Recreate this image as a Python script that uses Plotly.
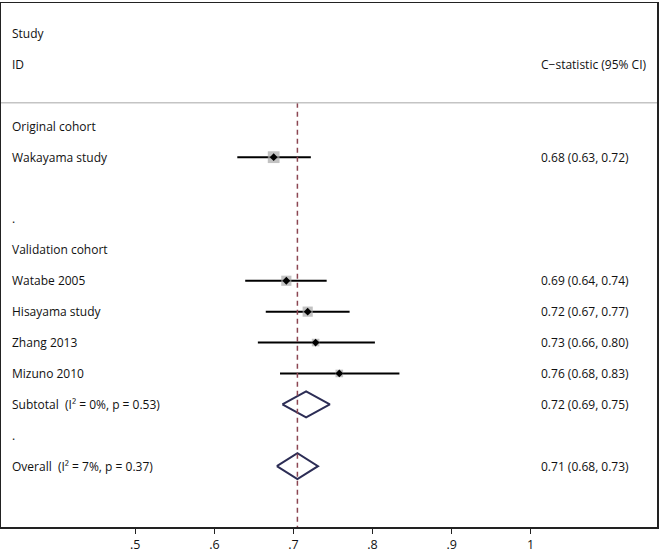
import plotly.graph_objects as go

# Individual studies (row index counted from "Original cohort" = 0)
studies = ["Wakayama study", "Watabe 2005", "Hisayama study", "Zhang 2013", "Mizuno 2010"]
study_rows = [1, 5, 6, 7, 8]
est = [0.675, 0.691, 0.718, 0.728, 0.758]
lo = [0.629, 0.639, 0.665, 0.655, 0.683]
hi = [0.722, 0.742, 0.771, 0.803, 0.834]
weights = [24, 18, 18, 10, 10]
est_text = ["0.68 (0.63, 0.72)", "0.69 (0.64, 0.74)", "0.72 (0.67, 0.77)",
            "0.73 (0.66, 0.80)", "0.76 (0.68, 0.83)"]

# Pooled estimates
pooled_names = ["Subtotal\u00a0 (I\u00b2 = 0%, p = 0.53)", "Overall\u00a0 (I\u00b2 = 7%, p = 0.37)"]
pooled_rows = [9, 11]
pooled_est = [0.716, 0.705]
pooled_lo = [0.686, 0.679]
pooled_hi = [0.746, 0.731]
pooled_text = ["0.72 (0.69, 0.75)", "0.71 (0.68, 0.73)"]

# Other left-column labels
heading_labels = ["Original cohort", ".", "Validation cohort", "."]
heading_rows = [0, 3, 4, 10]

tick_vals = [0.5, 0.6, 0.7, 0.8, 0.9, 1.0]
tick_text = [".5", ".6", ".7", ".8", ".9", "1"]

FONT = "Open Sans"
TXT = "#111111"

fig = go.Figure()

# confidence interval lines
ci_x, ci_y = [], []
for r, a, b in zip(study_rows, lo, hi):
    ci_x += [a, b, None]
    ci_y += [r, r, None]
fig.add_trace(go.Scatter(x=ci_x, y=ci_y, mode="lines",
                         line=dict(color="black", width=2)))

# weight boxes
fig.add_trace(go.Scatter(x=est, y=study_rows, mode="markers",
                         marker=dict(symbol="square", color="#a8a8a8",
                                     size=[2.4 * w ** 0.5 for w in weights],
                                     line=dict(width=0))))
# point estimates
fig.add_trace(go.Scatter(x=est, y=study_rows, mode="markers",
                         marker=dict(symbol="diamond", color="black", size=6)))

# pooled diamonds
h = 0.42
for r, e, a, b in zip(pooled_rows, pooled_est, pooled_lo, pooled_hi):
    fig.add_trace(go.Scatter(x=[a, e, b, e, a], y=[r, r - h, r, r + h, r],
                             mode="lines", line=dict(color="#2c2d55", width=2)))

# overall line
y_top, y_bot = -3.99, 12.97
sep = -0.76
fig.add_shape(type="line", xref="x", yref="y", x0=pooled_est[1], x1=pooled_est[1],
              y0=sep, y1=y_bot, line=dict(color="#8c4652", width=1.5, dash="5px,4px"))
fig.add_shape(type="line", xref="paper", yref="y", x0=0, x1=1, y0=sep, y1=sep,
              line=dict(color="#c4c4c4", width=1.5))

ann = []
LX, RX = 0.0137, 0.820
def add_text(x, y, t):
    ann.append(dict(x=x, y=y, xref="paper", yref="y", text=t, showarrow=False,
                    xanchor="left", yanchor="middle",
                    font=dict(family=FONT, size=12, color=TXT)))

add_text(LX, -3, "Study")
add_text(LX, -2, "ID")
add_text(RX, -2, "C\u2212statistic (95% CI)")
for t, r in zip(heading_labels, heading_rows):
    add_text(LX, r, t)
for t, r, s in zip(studies, study_rows, est_text):
    add_text(LX, r, t)
    add_text(RX, r, s)
for t, r, s in zip(pooled_names, pooled_rows, pooled_text):
    add_text(LX, r, t)
    add_text(RX, r, s)

fig.update_layout(
    width=660, height=554,
    margin=dict(l=1, r=3, t=1, b=22),
    plot_bgcolor="white", paper_bgcolor="white",
    showlegend=False, hovermode=False,
    annotations=ann,
    xaxis=dict(range=[0.3302, 1.1597], tickvals=tick_vals, ticktext=tick_text,
               showgrid=False, zeroline=False, showline=True, mirror=True,
               linecolor="#222", linewidth=1.5, ticks="outside", ticklen=5,
               tickcolor="#222", tickwidth=1.5,
               tickfont=dict(family=FONT, size=12.5, color=TXT)),
    yaxis=dict(range=[y_bot, y_top], showgrid=False, zeroline=False,
               showticklabels=False, showline=True, mirror=True,
               linecolor="#222", linewidth=1.5),
)

# drop the default page margin so the figure fills the window
fig.write_html("out.html", config={"displayModeBar": False, "staticPlot": True},
               post_script="document.body.style.margin='0';")
